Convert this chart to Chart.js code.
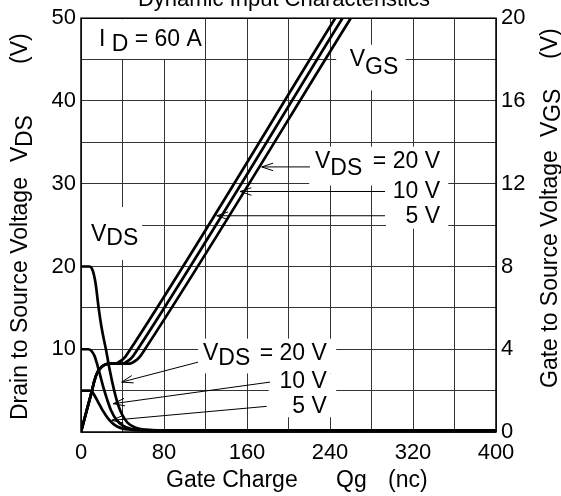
<!DOCTYPE html>
<html>
<head>
<meta charset="utf-8">
<script src="https://cdn.jsdelivr.net/npm/chart.js@4.4.0/dist/chart.umd.min.js"></script>
<style>
  html, body { margin: 0; padding: 0; background: #fff; }
</style>
</head>
<body>
<canvas id="myChart" width="561" height="496"></canvas>
<script>
const FONT = "'Liberation Sans', Arial, sans-serif";

// Gate charge Qg (nC) -> VDS (V), left axis
const vdsAt20 = [[0,20],[8,20],[11,19.6],[14,18],[17,15],[20,12.5],[24,10],[28,7.3],[32,5],[36,3.2],[40,2],[45,1.1],[52,0.55],[60,0.3],[75,0.2],[400,0.2]];
const vdsAt10 = [[0,10],[7,10],[10,9.8],[13,9.2],[16,8],[19,6.6],[22,5.2],[25,4],[29,2.6],[34,1.5],[40,0.8],[48,0.4],[60,0.25],[75,0.2],[400,0.2]];
const vdsAt5 = [[0,5],[8,5],[11,4.8],[14,4.2],[17,3.5],[20,2.8],[23,2.2],[27,1.5],[32,0.9],[38,0.5],[46,0.3],[58,0.2],[400,0.2]];

// Gate charge Qg (nC) -> VGS (V), right axis
const vgsAt5 = [[0,0],[5,0.95],[10.6,2],[13,2.5],[16,2.9],[20,3.15],[24,3.27],[28,3.3],[31,3.3],[35,3.34],[39,3.46],[43,3.66],[47,3.95],[245,20]];
const vgsAt10 = [[0,0],[5,0.95],[10.6,2],[13,2.5],[16,2.9],[20,3.15],[24,3.27],[28,3.3],[38,3.3],[42,3.34],[46,3.46],[50,3.66],[54,3.95],[252,20]];
const vgsAt20 = [[0,0],[5,0.95],[10.6,2],[13,2.5],[16,2.9],[20,3.15],[24,3.27],[28,3.3],[45,3.3],[49,3.34],[53,3.46],[57,3.66],[61,3.95],[260,20]];

// labelled ticks
const qLabels = [0, 80, 160, 240, 320, 400];
const vdsLabels = [10, 20, 30, 40, 50];
const vgsLabels = [0, 4, 8, 12, 16, 20];

const toXY = (arr) => arr.map(([x, y]) => ({ x, y }));

const line = (data, axis) => ({
  data: toXY(data),
  yAxisID: axis,
  borderColor: "#000",
  borderWidth: 2.7,
  pointRadius: 0,
  fill: false,
  cubicInterpolationMode: "monotone",
});

// white boxes behind the labels: [q1, v1, q2, v2] in Qg / VDS units
const boxes = [
  [0, 45.2, 118, 50],
  [245, 41.4, 312, 46.9],
  [0, 20.9, 58, 27.3],
  [219, 29.9, 353, 34.6],
  [293, 24.7, 353, 29.9],
  [112, 7.2, 245, 11.4],
  [180, 1.9, 245, 7.2],
];

// text labels: start Qg, baseline VDS, parts [text, drop in px]
const notes = [
  { q: 17.3, v: 46.6, parts: [["I", 0], [" D", 5], [" = 60 A", 0]] },
  { q: 259, v: 44.2, parts: [["V", 0], ["GS", 8]] },
  { q: 9.6, v: 23.1, parts: [["V", 0], ["DS", 4]] },
  { q: 225.5, v: 31.95, parts: [["V", 0], ["DS", 7]] },
  { q: 117.6, v: 8.64, parts: [["V", 0], ["DS", 5]] },
];
const rightNotes = [
  { q: 346, v: 31.95, text: "= 20 V" },
  { q: 346, v: 28.3, text: "10 V" },
  { q: 346, v: 25.28, text: "5 V" },
  { q: 237, v: 8.64, text: "= 20 V" },
  { q: 237, v: 5.27, text: "10 V" },
  { q: 237, v: 2.25, text: "5 V" },
];

// arrows: [fromQ, fromV, tipQ, tipV]
const arrows = [
  [220.7, 32.03, 174.2, 32.03],
  [293, 29.06, 153.3, 29.06],
  [293, 26.13, 130.8, 26.13],
  [112.8, 8.44, 39.2, 6.03],
  [182.2, 6.03, 31.1, 3.42],
  [179, 3.1, 29.6, 1.41],
];

function drawParts(ctx, x, y, parts) {
  let cx = x;
  parts.forEach(([t, drop]) => {
    ctx.fillText(t, cx, y + drop);
    cx += ctx.measureText(t).width;
  });
}

function drawRotated(ctx, x, y, parts) {
  ctx.save();
  ctx.translate(x, y);
  ctx.rotate(-Math.PI / 2);
  parts.forEach(([t, pos, drop]) => ctx.fillText(t, pos, drop));
  ctx.restore();
}

const decor = {
  id: "decor",
  beforeDatasetsDraw(chart) {
    const { ctx, scales: { x, y } } = chart;
    ctx.save();
    ctx.fillStyle = "#fff";
    boxes.forEach(([q1, v1, q2, v2]) => {
      const x1 = x.getPixelForValue(q1), x2 = x.getPixelForValue(q2);
      const y1 = y.getPixelForValue(v2), y2 = y.getPixelForValue(v1);
      ctx.fillRect(x1 + 1, y1 + 1, x2 - x1, y2 - y1);
    });
    ctx.restore();
  },
  afterDatasetsDraw(chart) {
    const { ctx, chartArea: a, scales: { x, y } } = chart;
    ctx.save();

    // frame
    ctx.strokeStyle = "#000";
    ctx.lineWidth = 1.5;
    ctx.strokeRect(a.left, a.top, a.right - a.left, a.bottom - a.top);

    ctx.fillStyle = "#000";
    ctx.font = "23px " + FONT;
    ctx.textBaseline = "alphabetic";
    ctx.textAlign = "left";
    notes.forEach((n) => drawParts(ctx, x.getPixelForValue(n.q), y.getPixelForValue(n.v), n.parts));
    ctx.textAlign = "right";
    rightNotes.forEach((n) => ctx.fillText(n.text, x.getPixelForValue(n.q), y.getPixelForValue(n.v)));

    // arrows
    ctx.lineWidth = 1;
    arrows.forEach(([q0, v0, q1, v1]) => {
      const x0 = x.getPixelForValue(q0), y0 = y.getPixelForValue(v0);
      const x1 = x.getPixelForValue(q1), y1 = y.getPixelForValue(v1);
      const ang = Math.atan2(y0 - y1, x0 - x1);
      ctx.beginPath();
      ctx.moveTo(x0, y0);
      ctx.lineTo(x1, y1);
      [-0.32, 0.32].forEach((d) => {
        ctx.moveTo(x1, y1);
        ctx.lineTo(x1 + 12 * Math.cos(ang + d), y1 + 12 * Math.sin(ang + d));
      });
      ctx.stroke();
    });

    // title (cut at the top edge)
    ctx.textAlign = "center";
    ctx.font = "22px " + FONT;
    ctx.fillText("Dynamic Input Characteristics", 284, 6);

    // axis titles
    ctx.textAlign = "left";
    ctx.font = "23px " + FONT;
    ctx.fillText("Gate Charge", 166, 487);
    ctx.fillText("Qg", 336, 487);
    ctx.fillText("(nc)", 388, 487);

    drawRotated(ctx, 26.5, 420, [["Drain to Source Voltage", 0, 0], ["V", 258, 0], ["DS", 273, 5], ["(V)", 356, 0]]);
    drawRotated(ctx, 556.5, 388, [["Gate to Source Voltage", 0, 0], ["V", 251, 0], ["GS", 266, 3], ["(V)", 329, 0]]);
    ctx.restore();
  },
};

const tickFont = { family: FONT, size: 22 };
const grid = { color: "#333", lineWidth: 1, drawTicks: false };

const myChart = new Chart(document.getElementById("myChart"), {
  type: "line",
  data: {
    datasets: [
      line(vdsAt20, "y"),
      line(vdsAt10, "y"),
      line(vdsAt5, "y"),
      line(vgsAt5, "y2"),
      line(vgsAt10, "y2"),
      line(vgsAt20, "y2"),
    ],
  },
  options: {
    responsive: false,
    animation: false,
    layout: { padding: { top: 17, left: 0, right: 0, bottom: 0 } },
    plugins: { legend: { display: false }, tooltip: { enabled: false } },
    scales: {
      x: {
        type: "linear",
        min: 0,
        max: 400,
        grid,
        border: { display: false },
        afterFit: (s) => { s.height = 64; },
        ticks: {
          stepSize: 40,
          autoSkip: false,
          maxRotation: 0,
          padding: 8,
          color: "#000",
          font: tickFont,
          callback: (v) => (qLabels.includes(v) ? String(v) : ""),
        },
      },
      y: {
        position: "left",
        min: 0,
        max: 50,
        grid,
        border: { display: false },
        afterFit: (s) => { s.width = 81; },
        ticks: {
          stepSize: 5,
          autoSkip: false,
          padding: 5,
          color: "#000",
          font: tickFont,
          callback: (v) => (vdsLabels.includes(v) ? String(v) : ""),
        },
      },
      y2: {
        position: "right",
        min: 0,
        max: 20,
        grid: { drawOnChartArea: false, drawTicks: false },
        border: { display: false },
        afterFit: (s) => { s.width = 65; },
        ticks: {
          stepSize: 4,
          autoSkip: false,
          padding: 5,
          color: "#000",
          font: tickFont,
          callback: (v) => (vgsLabels.includes(v) ? String(v) : ""),
        },
      },
    },
  },
  plugins: [decor],
});
</script>
</body>
</html>
